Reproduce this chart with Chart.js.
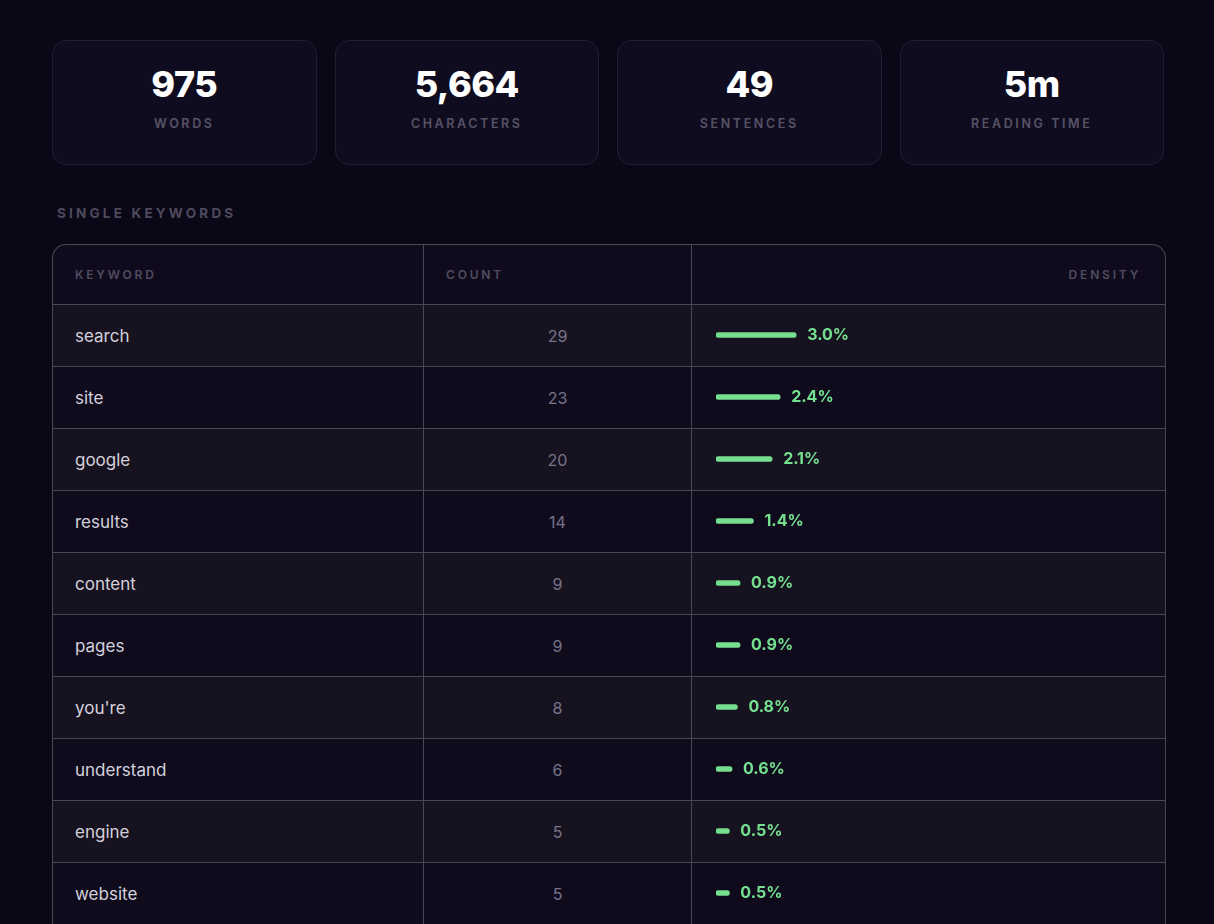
<!DOCTYPE html>
<html>
<head>
<meta charset="utf-8">
<script src="https://cdn.jsdelivr.net/npm/chart.js"></script>
<style>
  html, body { margin: 0; padding: 0; }
  body { width: 1214px; height: 924px; overflow: hidden; background: #0a0716; font-family: Inter, "Noto Sans", sans-serif; }
  .cards { position: absolute; left: 52px; top: 40px; width: 1112px; display: flex; gap: 18px; }
  .card { flex: 1; height: 125px; box-sizing: border-box; border: 1px solid #221e32; border-radius: 14px; background: #100c1f; text-align: center; }
  .card .num { color: #fff; font-size: 36px; font-weight: 800; margin-top: 23px; line-height: 40px; letter-spacing: -0.5px; }
  .card .lbl { color: #575366; font-size: 12.5px; font-weight: 600; letter-spacing: 2.6px; margin-top: 12px; }
  .section { position: absolute; left: 57px; top: 205px; color: #4e4a5d; font-size: 13.5px; font-weight: 700; letter-spacing: 3.2px; }
  .tbl { position: absolute; left: 52px; top: 244px; width: 1112px; border: 1px solid #4a4652; border-bottom: none; border-radius: 14px 14px 0 0; overflow: hidden; background: #0f0b1d; }
  .row { display: flex; height: 62px; border-top: 1px solid #4a4652; box-sizing: border-box; }
  .row.head { height: 59px; border-top: none; }
  .row.odd { background: #17121f; }
  .c1 { width: 371px; border-right: 1px solid #4a4652; padding-left: 22px; box-sizing: border-box; display: flex; align-items: center; color: #d4d1dc; font-size: 17px; }
  .c2 { width: 268px; border-right: 1px solid #4a4652; box-sizing: border-box; display: flex; align-items: center; justify-content: center; color: #77738a; font-size: 16px; }
  .c3 { flex: 1; display: flex; align-items: center; justify-content: flex-end; padding-right: 24px; }
  .head div { color: #514d60; font-size: 12px; font-weight: 600; letter-spacing: 2.8px; }
  .head .c2 { justify-content: flex-start; padding-left: 22px; }
  #wrap { position: absolute; left: 641px; top: 59px; width: 471px; height: 620px; }
</style>
</head>
<body>
<div class="cards" id="cards"></div>
<div class="section">SINGLE KEYWORDS</div>
<div class="tbl" id="tbl">
  <div class="row head"><div class="c1">KEYWORD</div><div class="c2">COUNT</div><div class="c3">DENSITY</div></div>
  <div id="wrap"><canvas id="density"></canvas></div>
</div>
<script>
const statValues = ['975', '5,664', '49', '5m'];
const statLabels = ['WORDS', 'CHARACTERS', 'SENTENCES', 'READING TIME'];
const keywords = ['search', 'site', 'google', 'results', 'content', 'pages', "you're", 'understand', 'engine', 'website'];
const counts = [29, 23, 20, 14, 9, 9, 8, 6, 5, 5];
const density = [3.0, 2.4, 2.1, 1.4, 0.9, 0.9, 0.8, 0.6, 0.5, 0.5];

const cards = document.getElementById('cards');
statValues.forEach((v, i) => {
  cards.insertAdjacentHTML('beforeend',
    '<div class="card"><div class="num">' + v + '</div><div class="lbl">' + statLabels[i] + '</div></div>');
});
const tbl = document.getElementById('tbl');
const wrap = document.getElementById('wrap');
keywords.forEach((k, i) => {
  const r = document.createElement('div');
  r.className = 'row' + (i % 2 === 0 ? ' odd' : '');
  r.innerHTML = '<div class="c1">' + k + '</div><div class="c2">' + counts[i] + '</div><div class="c3"></div>';
  tbl.insertBefore(r, wrap);
});

const valueLabels = {
  id: 'valueLabels',
  afterDatasetsDraw(chart) {
    const ctx = chart.ctx;
    ctx.save();
    ctx.fillStyle = '#74e08f';
    ctx.font = '700 16px Inter, sans-serif';
    ctx.textBaseline = 'middle';
    chart.getDatasetMeta(0).data.forEach((bar, i) => {
      ctx.fillText(density[i].toFixed(1) + '%', bar.x + 11, bar.y);
    });
    ctx.restore();
  }
};

new Chart(document.getElementById('density'), {
  type: 'bar',
  data: {
    labels: keywords,
    datasets: [{
      data: density,
      backgroundColor: '#74e08f',
      barThickness: 5,
      borderRadius: 3,
      borderSkipped: false
    }]
  },
  options: {
    indexAxis: 'y',
    responsive: true,
    maintainAspectRatio: false,
    animation: false,
    layout: { padding: { left: 22, right: 0, top: 0, bottom: 0 } },
    plugins: { legend: { display: false }, tooltip: { enabled: false } },
    scales: {
      x: { display: false, min: 0, max: 16.8 },
      y: { display: false }
    }
  },
  plugins: [valueLabels]
});
</script>
</body>
</html>
